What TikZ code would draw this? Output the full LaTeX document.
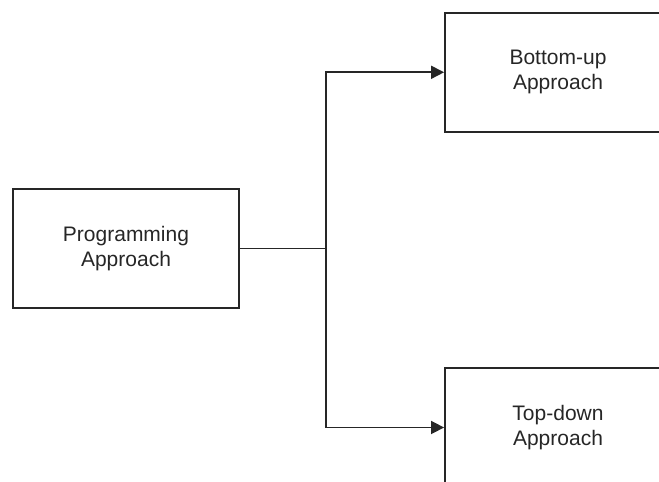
\documentclass[tikz,border=0pt]{standalone}
\usepackage{fontspec}
\setmainfont{Liberation Sans}
\usetikzlibrary{arrows.meta}
\begin{document}
\begin{tikzpicture}[x=1pt,y=1pt,
  box/.style={draw=black!85, line width=1.8pt, minimum width=226pt, minimum height=119pt,
    inner sep=0pt, align=center, font=\fontsize{21}{25}\selectfont, text=black!85},
  conn/.style={draw=black!85, line width=1.6pt},
  arr/.style={conn, -{Triangle[length=13pt,width=13pt]}}]
\useasboundingbox (0,0) rectangle (659,482);
\clip (0,0) rectangle (659,482);
\node[box] (prog) at (126,233.5) {Programming\\Approach};
\node[box] (bu) at (558,409.7) {Bottom-up\\Approach};
\node[box] (td) at (558,54.5) {Top-down\\Approach};
\coordinate (j) at (326,233.5);
\draw[conn] (prog.east) -- (j);
\draw[arr] (j) |- (bu.west);
\draw[arr] (j) |- (td.west);
\end{tikzpicture}
\end{document}
